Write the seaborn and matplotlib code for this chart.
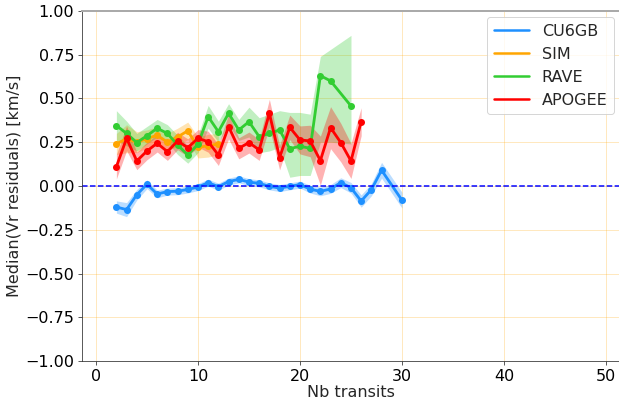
import matplotlib
matplotlib.use("Agg")
import matplotlib.pyplot as plt
from matplotlib.lines import Line2D
import numpy as np
import seaborn as sns

# ── data ─────────────────────────────────────────────────────────────────────
cu6gb_x = [2, 3, 4, 5, 6, 7, 8, 9, 10, 11, 12, 13, 14, 15, 16, 17, 18, 19, 20,
           21, 22, 23, 24, 25, 26, 27, 28, 30]
cu6gb_med = [-0.12, -0.135, -0.05, 0.01, -0.046, -0.032, -0.03, -0.02, -0.006,
             0.019, -0.004, 0.025, 0.038, 0.022, 0.015, -0.002, -0.012, -0.002,
             0.008, -0.018, -0.031, -0.017, 0.019, -0.01, -0.086, -0.021, 0.09,
             -0.081]
cu6gb_err = [0.035, 0.04, 0.03, 0.025, 0.022, 0.02, 0.02, 0.02, 0.02, 0.02, 0.02,
             0.02, 0.02, 0.02, 0.02, 0.02, 0.02, 0.02, 0.02, 0.022, 0.025, 0.025,
             0.028, 0.03, 0.035, 0.035, 0.045, 0.045]

sim_x = [2, 3, 4, 5, 6, 7, 8, 9, 10, 11, 12]
sim_med = [0.24, 0.27, 0.25, 0.27, 0.29, 0.25, 0.28, 0.315, 0.22, 0.23, 0.24]
sim_err = [0.06, 0.08, 0.06, 0.05, 0.05, 0.05, 0.05, 0.05, 0.06, 0.065, 0.06]

rave_x = [2, 3, 4, 5, 6, 7, 8, 9, 10, 11, 12, 13, 14, 15, 16, 17, 18, 19, 20,
          21, 22, 23, 25]
rave_med = [0.345, 0.30, 0.248, 0.287, 0.33, 0.30, 0.234, 0.177, 0.238, 0.396,
            0.31, 0.415, 0.32, 0.367, 0.282, 0.30, 0.32, 0.213, 0.227, 0.215,
            0.63, 0.60, 0.457]
rave_lo = [0.26, 0.23, 0.20, 0.24, 0.28, 0.25, 0.18, 0.13, 0.19, 0.33, 0.25, 0.35,
           0.26, 0.28, 0.19, 0.20, 0.22, 0.05, 0.06, 0.06, 0.25, 0.25, 0.24]
rave_hi = [0.43, 0.37, 0.30, 0.34, 0.38, 0.35, 0.29, 0.23, 0.29, 0.46, 0.37, 0.47,
           0.38, 0.45, 0.39, 0.41, 0.43, 0.42, 0.42, 0.41, 0.74, 0.78, 0.86]

apogee_x = list(range(2, 27))
apogee_med = [0.11, 0.272, 0.143, 0.20, 0.244, 0.196, 0.257, 0.219, 0.272, 0.253,
              0.177, 0.339, 0.215, 0.248, 0.206, 0.415, 0.162, 0.335, 0.263,
              0.257, 0.145, 0.333, 0.248, 0.143, 0.367]
apogee_err = [0.07, 0.07, 0.05, 0.05, 0.05, 0.05, 0.05, 0.05, 0.05, 0.06, 0.06,
              0.07, 0.06, 0.06, 0.06, 0.08, 0.07, 0.07, 0.08, 0.09, 0.14, 0.12,
              0.11, 0.10, 0.08]

LABELS = ["CU6GB", "SIM", "RAVE", "APOGEE"]
COLORS = ["#1E90FF", "#FFA500", "#32CD32", "#FF0000"]

series = [
    (cu6gb_x, cu6gb_med,
     np.array(cu6gb_med) - cu6gb_err, np.array(cu6gb_med) + cu6gb_err),
    (sim_x, sim_med, np.array(sim_med) - sim_err, np.array(sim_med) + sim_err),
    (rave_x, rave_med, np.array(rave_lo), np.array(rave_hi)),
    (apogee_x, apogee_med,
     np.array(apogee_med) - apogee_err, np.array(apogee_med) + apogee_err),
]

sns.set_style("white")
plt.rcParams["font.family"] = ["DejaVu Sans"]
plt.rcParams["font.size"] = 16

fig = plt.figure(figsize=(619 / 72, 403 / 72), dpi=72)
ax = fig.add_axes([0.132, 0.104, 0.870, 0.869])

for (x, med, lo, hi), color in zip(series, COLORS):
    ax.fill_between(x, lo, hi, color=color, alpha=0.3, lw=0)
    sns.lineplot(x=x, y=med, color=color, lw=2.8, marker="o", markersize=7,
                 markeredgewidth=0, errorbar=None, ax=ax)

ax.axhline(0, color="blue", ls="--", lw=1.5)

ax.set_xlim(-1.4, 51.4)
ax.set_ylim(-1, 1)
ax.set_xticks(range(0, 51, 10))
ax.set_yticks(np.arange(-1, 1.01, 0.25))
ax.tick_params(labelsize=16, length=4, left=True, bottom=True,
               color="#333333", labelcolor="black")
ax.grid(True, color="orange", alpha=0.25, lw=1)
ax.set_axisbelow(True)
ax.set_xlabel("Nb transits", fontsize=16, labelpad=1)
ax.set_ylabel("Median(Vr residuals) [km/s]", fontsize=16, labelpad=4)
for side in ["left", "bottom"]:
    ax.spines[side].set_color("#333333")
ax.spines["right"].set_visible(False)
ax.spines["top"].set_color("#aaaaaa")
ax.spines["top"].set_linewidth(2)

handles = [Line2D([], [], color=c, lw=2.5) for c in COLORS]
ax.legend(handles, LABELS, loc="upper right", fontsize=16, handlelength=2.2,
          framealpha=0.8, edgecolor="#cccccc", borderaxespad=0.4)

fig.savefig("out.png", dpi=72)
